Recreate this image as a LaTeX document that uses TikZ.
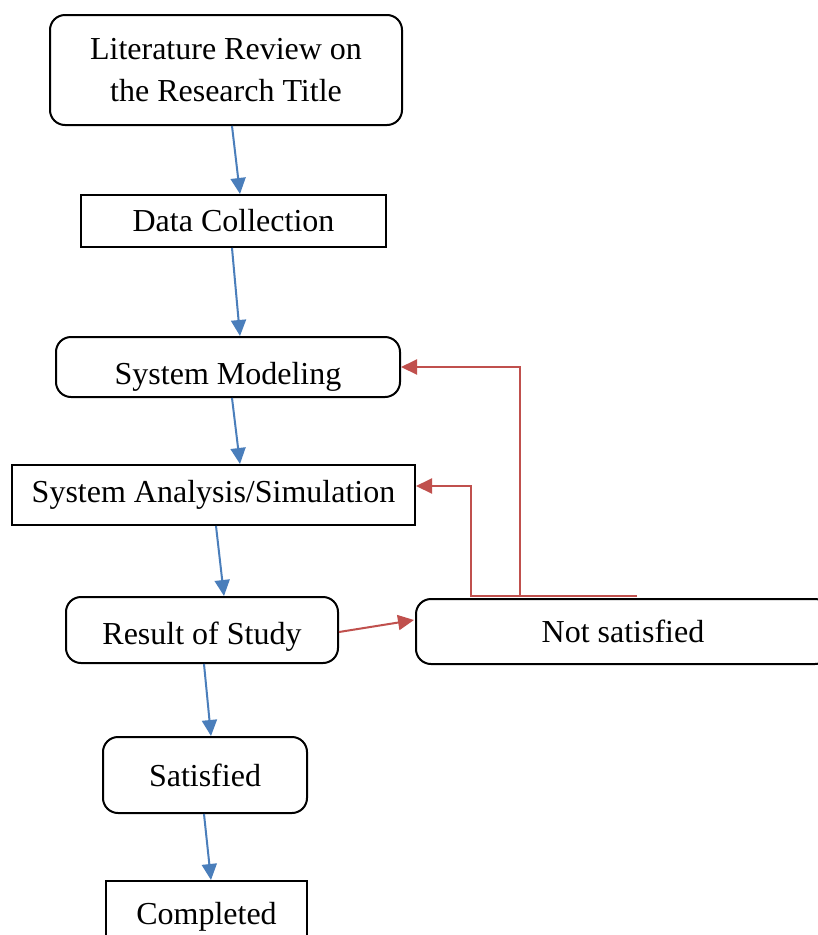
\documentclass[tikz,border=0pt]{standalone}
\usepackage{fontspec}
\setmainfont{Liberation Serif}
\usepackage{tikz}
\usepackage{xcolor}
\usetikzlibrary{arrows.meta,positioning,calc}
\definecolor{ink}{HTML}{000000}
\definecolor{flowblue}{HTML}{4A7EBB}
\definecolor{backred}{HTML}{C0504D}
\tikzset{
  stepround/.style={draw=ink,fill=white,line width=2pt,rounded corners=15pt,
                    align=center,inner sep=0pt,font=\fontsize{32}{42}\selectfont},
  stepbox/.style={draw=ink,fill=white,line width=2pt,
                  align=center,inner sep=0pt,font=\fontsize{32}{42}\selectfont},
  flowarr/.style={-{Triangle[length=16pt,width=15pt]},line width=2pt,color=flowblue},
  backarr/.style={-{Triangle[length=16pt,width=15pt]},line width=2pt,color=backred}
}

\begin{document}
\begin{tikzpicture}[x=1pt,y=-1pt]
  \clip (0,0) rectangle (818,935);
  \fill[white] (0,0) rectangle (818,935);
  % steps of the study
  \node[stepround,minimum width=352,minimum height=110] (lit) at (226,70)
    {Literature Review on\\the Research Title};
  \node[stepbox,minimum width=305,minimum height=52] (data) at (233.5,221) {Data Collection};
  \node[stepround,minimum width=344,minimum height=60,text height=34pt,text depth=0pt]
    (model) at (228,367) {System Modeling};
  \node[stepbox,minimum width=403,minimum height=60] (anal) at (213.5,495) {System Analysis/Simulation};
  \node[stepround,minimum width=272,minimum height=66,text height=28pt,text depth=0pt]
    (result) at (202,630) {Result of Study};
  \node[stepround,minimum width=414,minimum height=65] (notsat) at (623,631.5) {Not satisfied};
  \node[stepround,minimum width=204,minimum height=76] (sat) at (205,775) {Satisfied};
  \node[stepbox,minimum width=201,minimum height=72] (done) at (206.5,917) {Completed};
  % main flow
  \draw[flowarr] ([xshift=6]lit.south) -- ([xshift=6.5]data.north);
  \draw[flowarr] ([xshift=-1.5]data.south) -- ([xshift=12]model.north);
  \draw[flowarr] ([xshift=4]model.south) -- ([xshift=26.5]anal.north);
  \draw[flowarr] ([xshift=2.5]anal.south) -- ([xshift=22]result.north);
  \draw[flowarr] ([xshift=2]result.south) -- ([xshift=6]sat.north);
  \draw[flowarr] ([xshift=-1]sat.south) -- ([xshift=4.5]done.north);
  % going back when not satisfied
  \coordinate (nstop) at (637,596);
  \coordinate (ret1) at (520,596);
  \coordinate (ret2) at (471,596);
  \draw[backarr] ($(result.east)+(0,2)$) -- ($(notsat.west)+(-1,-11.5)$);
  \draw[backarr] (nstop) -- (ret1) |- (model.east);
  \draw[backarr] (ret1) -- (ret2) |- ($(anal.east)+(0,-9)$);
\end{tikzpicture}
\end{document}
